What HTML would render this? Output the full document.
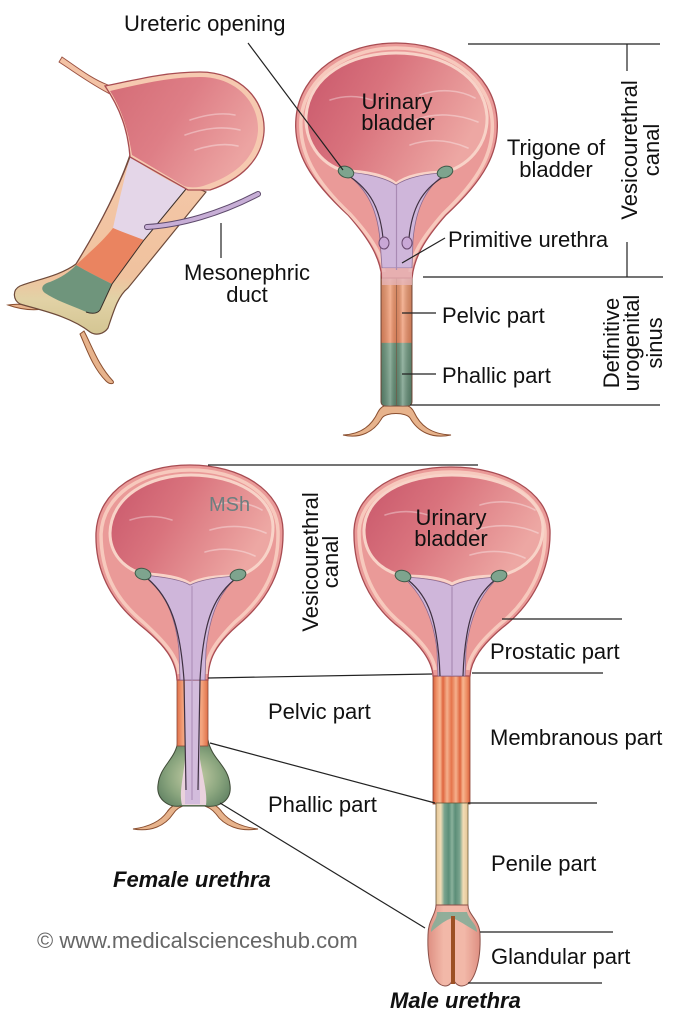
<!DOCTYPE html>
<html><head><meta charset="utf-8">
<style>
html,body{margin:0;padding:0;background:#fff;}
svg{display:block;}
text{font-family:"Liberation Sans",Arial,sans-serif;font-size:22px;fill:#111;}
.ln{stroke:#222;stroke-width:1.2;fill:none;}
.wall{fill:#ea9a98;stroke:#a84c52;stroke-width:1.3;}
.rim{fill:none;stroke:#f7c9bd;stroke-width:3.5;}
.cav{fill:url(#cav);stroke:#f8d3c8;stroke-width:3;}
.tri{fill:#cfb6da;stroke:#8a6a90;stroke-width:0.8;}
.op{fill:#7ea48e;stroke:#3e5a48;stroke-width:1;}
.dk{fill:none;stroke:#3e3040;stroke-width:1.2;}
.flap{fill:#e7b38c;stroke:#8a4f30;stroke-width:1;}
.streak{fill:none;stroke:#fff;stroke-opacity:0.35;stroke-width:1.6;stroke-linecap:round;}
</style></head><body>
<svg width="679" height="1024" viewBox="0 0 679 1024" xmlns="http://www.w3.org/2000/svg">
<defs>
 <linearGradient id="cav" x1="0" y1="0" x2="1" y2="0.4">
  <stop offset="0" stop-color="#c8566a"/>
  <stop offset="0.45" stop-color="#d9737d"/>
  <stop offset="1" stop-color="#eda7a3"/>
 </linearGradient>
 <linearGradient id="cavA" x1="0" y1="0" x2="1" y2="0.5">
  <stop offset="0" stop-color="#d46c76"/>
  <stop offset="0.5" stop-color="#de7e86"/>
  <stop offset="1" stop-color="#eca4a2"/>
 </linearGradient>
 <linearGradient id="tubeB" gradientUnits="userSpaceOnUse" x1="0" y1="266" x2="0" y2="405">
  <stop offset="0" stop-color="#d8c0dd"/>
  <stop offset="0.07" stop-color="#e6b8b8"/>
  <stop offset="0.12" stop-color="#f09a70"/>
  <stop offset="0.55" stop-color="#ee8c62"/>
  <stop offset="0.556" stop-color="#6f9a80"/>
  <stop offset="1" stop-color="#5e8a72"/>
 </linearGradient>
 <linearGradient id="shadeB" gradientUnits="userSpaceOnUse" x1="381" y1="0" x2="412" y2="0">
  <stop offset="0" stop-color="#000" stop-opacity="0.15"/>
  <stop offset="0.3" stop-color="#fff" stop-opacity="0.25"/>
  <stop offset="0.5" stop-color="#000" stop-opacity="0.1"/>
  <stop offset="0.7" stop-color="#fff" stop-opacity="0.3"/>
  <stop offset="1" stop-color="#000" stop-opacity="0.15"/>
 </linearGradient>
 <linearGradient id="orD" gradientUnits="userSpaceOnUse" x1="433" y1="0" x2="470" y2="0">
  <stop offset="0" stop-color="#d65e3c"/>
  <stop offset="0.08" stop-color="#ec8a60"/>
  <stop offset="0.19" stop-color="#f7b690"/>
  <stop offset="0.27" stop-color="#df663f"/>
  <stop offset="0.38" stop-color="#f5b08c"/>
  <stop offset="0.5" stop-color="#e5744b"/>
  <stop offset="0.62" stop-color="#f5b08c"/>
  <stop offset="0.73" stop-color="#df663f"/>
  <stop offset="0.81" stop-color="#f7b690"/>
  <stop offset="0.92" stop-color="#ec8a60"/>
  <stop offset="1" stop-color="#d65e3c"/>
 </linearGradient>
 <linearGradient id="grD" gradientUnits="userSpaceOnUse" x1="436" y1="0" x2="468" y2="0">
  <stop offset="0" stop-color="#e4c596"/>
  <stop offset="0.15" stop-color="#f2dcb5"/>
  <stop offset="0.26" stop-color="#7aa48e"/>
  <stop offset="0.4" stop-color="#5c8e78"/>
  <stop offset="0.5" stop-color="#8ab19c"/>
  <stop offset="0.6" stop-color="#5c8e78"/>
  <stop offset="0.74" stop-color="#7aa48e"/>
  <stop offset="0.85" stop-color="#f2dcb5"/>
  <stop offset="1" stop-color="#e4c596"/>
 </linearGradient>
 <linearGradient id="orC" gradientUnits="userSpaceOnUse" x1="177" y1="0" x2="208" y2="0">
  <stop offset="0" stop-color="#e07048"/>
  <stop offset="0.2" stop-color="#f3a47e"/>
  <stop offset="0.8" stop-color="#f3a47e"/>
  <stop offset="1" stop-color="#e07048"/>
 </linearGradient>
 <radialGradient id="bulb" cx="0.5" cy="0.55" r="0.6">
  <stop offset="0" stop-color="#c9d0a8"/>
  <stop offset="0.6" stop-color="#8aa57e"/>
  <stop offset="1" stop-color="#5f8062"/>
 </radialGradient>
 <linearGradient id="silA" gradientUnits="userSpaceOnUse" x1="0" y1="190" x2="0" y2="335">
  <stop offset="0" stop-color="#f3c6a6"/>
  <stop offset="0.6" stop-color="#f0c29e"/>
  <stop offset="0.75" stop-color="#e2d2a6"/>
  <stop offset="1" stop-color="#d3c592"/>
 </linearGradient>
 <linearGradient id="glans" x1="0" y1="0" x2="1" y2="0">
  <stop offset="0" stop-color="#de8f82"/>
  <stop offset="0.3" stop-color="#f2b8a8"/>
  <stop offset="0.7" stop-color="#f2b8a8"/>
  <stop offset="1" stop-color="#de8f82"/>
 </linearGradient>
</defs>

<!-- ============ Figure A (lateral) ============ -->
<path d="M84,331 C92,346 98,365 113,381 C115,384 110,385 106,381 C93,368 87,350 80,334 Z" class="flap" fill="#f0c0a0"/>
<path d="M8,305 C20,303 32,305 44,309 C30,311 19,309 8,305 Z" class="flap"/>
<path d="M130,155 C118,190 100,225 76,264 C60,276 35,280 20,286 C12,290 13,300 20,304 C40,310 70,316 90,332 C96,336 104,334 108,328 C114,310 118,296 128,288 L206,192 C200,189 192,188 186,188 Z" fill="url(#silA)" stroke="#6d4a3a" stroke-width="1.2"/>
<path d="M130,157 C150,170 170,182 186,189 L144,240 C134,236 122,232 113,228 C118,205 124,180 130,157 Z" fill="#e4d6e8"/>
<path d="M113,228 C122,232 134,236 144,240 L112,284 C100,278 88,272 76,265 C90,252 104,240 113,228 Z" fill="#ea8460"/>
<path d="M76,265 C88,272 100,278 112,284 L100,310 C96,314 90,314 84,311 C70,305 55,300 45,293 C40,289 42,284 50,282 C60,278 70,272 76,265 Z" fill="#6f957c"/>
<path d="M186,189 L144,240 L112,284 L100,310 C97,314 92,314 86,312" fill="none" stroke="#3a2f2a" stroke-width="1"/>
<path d="M130,157 C118,190 100,225 76,264" fill="none" stroke="#7a4a40" stroke-width="1"/>
<path d="M62,57 C78,68 92,79 108,85 L112,95 C92,85 76,73 59,62 Z" fill="#f3c2a5" stroke="#9a5040" stroke-width="0.9"/>
<path d="M105,86 C135,80 165,72 200,72 C240,72 266,100 264,132 C262,160 240,180 210,190 L188,190 L130,157 C128,130 120,108 105,86 Z" fill="#f6c9b0" stroke="#a84c52" stroke-width="1.3"/>
<path d="M110,91 C140,84 170,77 200,77 C236,77 259,102 258,131 C256,157 236,175 206,185 C198,188 190,188 184,186 L132,155 C128,130 122,110 110,91 Z" fill="url(#cavA)"/>
<path d="M190,120 C205,115 220,112 235,115 M185,135 C205,128 222,126 240,130 M195,150 C210,145 225,143 238,146" class="streak"/>
<path d="M147,227 C180,225 220,214 258,194" fill="none" stroke="#5e4a6c" stroke-width="6" stroke-linecap="round"/>
<path d="M147,227 C180,225 220,214 258,194" fill="none" stroke="#c7aed6" stroke-width="4" stroke-linecap="round"/>

<!-- ============ Figure B (top frontal) ============ -->
<path d="M343,435 C362,434 372,425 378,412 C381,406 386,404 396,404 C406,404 411,406 414,412 C420,425 430,434 451,435 C432,439 418,432 410,418 C406,412 386,412 382,418 C374,432 360,439 343,435 Z" class="flap"/>
<rect x="381" y="262" width="31" height="144" rx="4" fill="url(#tubeB)" stroke="#7a4a3a" stroke-width="1"/>
<rect x="381" y="262" width="31" height="144" rx="4" fill="url(#shadeB)"/>
<line x1="396.5" y1="266" x2="396.5" y2="405" stroke="#7a5040" stroke-opacity="0.6" stroke-width="1"/>
<path d="M382,278 C380,258 370,240 348,215 C310,180 293,152 296,118 C300,72 345,43 396,43 C448,43 493,72 497,118 C500,152 484,180 446,215 C424,240 414,258 412,278 Z" class="wall"/>
<path d="M384,272 C382,255 372,238 350,214 C314,180 299,152 301,119 C305,76 348,48 396,48 C446,48 488,76 492,119 C495,152 479,180 443,214 C422,238 412,255 410,272" class="rim"/>
<path d="M344,171 C318,163 305,140 306,116 C309,76 350,53 396,53 C443,53 484,76 487,116 C488,140 474,163 446,172 C425,172 406,176 396,184 C387,176 366,171 344,171 Z" class="cav"/>
<path d="M420,95 C440,88 460,90 475,98 M415,120 C435,112 458,114 478,122 M410,145 C430,138 450,140 468,148 M330,100 C345,95 360,96 372,100" class="streak"/>
<path d="M344,172 C366,173 386,178 396,185 C406,178 426,173 446,173 C428,186 416,205 413,240 L412,268 L382,268 L380,240 C377,205 364,186 344,172 Z" class="tri"/>
<path d="M382,268 L382,285 L412,285 L412,268 Z" fill="#e6b4b6" opacity="0.8"/>
<line x1="396.5" y1="185" x2="396.5" y2="270" stroke="#a98ab4" stroke-width="1.2"/>
<path d="M349,176 C370,190 380,208 383,238" class="dk"/>
<path d="M443,177 C422,190 412,208 409,238" class="dk"/>
<ellipse cx="384" cy="243" rx="5" ry="6" fill="#c9a8d6" stroke="#6a4a70" stroke-width="1"/>
<ellipse cx="407" cy="243" rx="5" ry="6" fill="#c9a8d6" stroke="#6a4a70" stroke-width="1"/>
<ellipse cx="346" cy="172" rx="8" ry="5.5" transform="rotate(20 346 172)" class="op"/>
<ellipse cx="445" cy="172" rx="8" ry="5.5" transform="rotate(-20 445 172)" class="op"/>

<!-- ============ Figure C (female) ============ -->
<path d="M133,829 C148,827 160,822 167,812 C171,806 176,803 183,801 L185,805 C180,807 176,809 173,814 C165,826 151,832 133,829 Z" class="flap" fill="#d9955e"/>
<path d="M258,829 C242,827 230,822 222,812 C218,806 212,803 205,801 L202,805 C208,807 212,809 216,814 C224,826 240,832 258,829 Z" class="flap" fill="#d9955e"/>
<path d="M178,740 C176,760 160,765 158,785 C156,800 170,808 180,806 L205,806 C220,808 232,800 230,785 C228,765 212,760 208,740 Z" fill="url(#bulb)" stroke="#3e4a36" stroke-width="1"/>
<path d="M186,742 C186,770 178,790 182,805 L206,805 C208,790 200,770 198,742 Z" fill="#ead2dd"/>
<rect x="177" y="674" width="31" height="72" fill="url(#orC)" stroke="#8a4a3a" stroke-width="0.8"/>
<rect x="185" y="674" width="15" height="130" fill="#d3bcdc"/>
<path d="M177,680 C176,660 165,645 140,625 C110,600 95,570 96,533 C98,490 140,465 190,465 C240,465 282,490 283,530 C284,570 268,600 238,625 C215,645 208,660 208,680 Z" class="wall"/>
<path d="M179,674 C178,658 167,644 143,622 C114,598 101,570 101,534 C103,494 143,470 190,470 C238,470 277,494 278,531 C279,570 264,598 235,622 C213,644 206,658 206,674" class="rim"/>
<path d="M143,574 C122,568 110,552 110,533 C111,497 148,475 191,475 C236,475 273,497 273,527 C273,553 258,570 238,576 C220,576 200,578 190,584 C182,578 162,574 143,574 Z" class="cav"/>
<path d="M215,505 C232,500 250,503 262,510 M210,530 C230,524 250,526 266,533 M205,552 C222,547 240,549 255,556 M130,520 C145,515 160,516 172,520" class="streak"/>
<path d="M143,575 C165,577 182,580 190,585 C200,580 218,577 238,576 C222,590 210,610 206,650 L205,680 L180,680 L179,650 C175,610 162,590 143,575 Z" class="tri"/>
<line x1="192" y1="586" x2="192" y2="800" stroke="#a98ab4" stroke-width="1"/>
<path d="M148,579 C170,598 180,625 184,680 L186,790" class="dk"/>
<path d="M234,580 C212,598 203,625 200,680 L198,790" class="dk"/>
<ellipse cx="143" cy="574" rx="8" ry="5.5" transform="rotate(15 143 574)" class="op"/>
<ellipse cx="238" cy="575" rx="8" ry="5.5" transform="rotate(-15 238 575)" class="op"/>

<!-- ============ Figure D (male) ============ -->
<rect x="433" y="670" width="37" height="134" fill="url(#orD)" stroke="#8a4030" stroke-width="0.8"/>
<rect x="436" y="803" width="32" height="125" fill="url(#grD)" stroke="#6a5a3a" stroke-width="0.8"/>
<path d="M436,905 C436,915 428,920 428,935 C427,960 432,985 445,986 C450,986 452,982 453,978 C454,982 457,986 462,986 C475,985 481,960 480,935 C480,920 468,915 468,905 Z" fill="url(#glans)" stroke="#8a5048" stroke-width="1"/>
<path d="M437,912 C437,920 431,924 431,932 C440,924 446,920 452,918 C458,920 464,924 477,932 C477,924 469,920 467,912 Z" fill="#86ad98" opacity="0.9"/>
<path d="M451,916 L455,916 L455,984 L451,984 Z" fill="#9c5024"/>
<path d="M433,676 C432,660 420,645 400,628 C370,605 353,570 354,530 C356,490 400,467 451,467 C502,467 548,490 550,530 C551,570 532,605 502,628 C482,645 471,660 470,676 Z" class="wall"/>
<path d="M435,670 C434,656 422,642 403,625 C374,602 359,569 359,531 C361,494 403,472 451,472 C500,472 543,494 545,531 C546,569 528,602 499,625 C480,642 469,656 468,670" class="rim"/>
<path d="M403,576 C378,570 364,553 364,530 C365,495 405,475 452,475 C500,475 542,495 543,527 C543,553 525,570 499,576 C478,576 462,578 452,584 C443,578 425,576 403,576 Z" class="cav"/>
<path d="M480,505 C500,499 520,502 535,510 M475,530 C498,523 520,525 538,533 M470,555 C490,549 510,551 525,558 M385,515 C400,510 415,511 428,515" class="streak"/>
<path d="M403,577 C425,578 443,581 452,586 C461,581 479,578 499,577 C482,592 470,615 466,650 L465,676 L438,676 L437,650 C433,615 420,592 403,577 Z" class="tri"/>
<line x1="452" y1="587" x2="452" y2="676" stroke="#a98ab4" stroke-width="1.2"/>
<path d="M408,580 C428,596 438,620 440,676" class="dk"/>
<path d="M495,580 C475,596 465,620 463,676" class="dk"/>
<ellipse cx="403" cy="576" rx="8" ry="5.5" transform="rotate(15 403 576)" class="op"/>
<ellipse cx="499" cy="576" rx="8" ry="5.5" transform="rotate(-15 499 576)" class="op"/>

<!-- ============ Leader lines ============ -->
<line class="ln" x1="248" y1="43" x2="343" y2="170"/>
<line class="ln" x1="221" y1="223" x2="221" y2="258"/>
<line class="ln" x1="445" y1="238" x2="402" y2="263"/>
<line class="ln" x1="402" y1="313" x2="436" y2="313"/>
<line class="ln" x1="402" y1="374" x2="436" y2="374"/>
<line class="ln" x1="468" y1="44" x2="660" y2="44"/>
<line class="ln" x1="627" y1="44" x2="627" y2="71"/>
<line class="ln" x1="627" y1="242" x2="627" y2="277"/>
<line class="ln" x1="423" y1="277" x2="663" y2="277"/>
<line class="ln" x1="410" y1="405" x2="660" y2="405"/>

<line class="ln" x1="208" y1="465" x2="478" y2="465"/>
<line class="ln" x1="208" y1="678" x2="432" y2="674"/>
<line class="ln" x1="472" y1="673" x2="603" y2="673"/>
<line class="ln" x1="502" y1="619" x2="622" y2="619"/>
<line class="ln" x1="210" y1="743" x2="435" y2="803"/>
<line class="ln" x1="468" y1="803" x2="597" y2="803"/>
<line class="ln" x1="220" y1="803" x2="425" y2="928"/>
<line class="ln" x1="480" y1="932" x2="613" y2="932"/>
<line class="ln" x1="468" y1="983" x2="602" y2="983"/>

<!-- ============ Labels ============ -->
<text x="124" y="31">Ureteric opening</text>
<text x="397" y="109" text-anchor="middle">Urinary</text>
<text x="398" y="130" text-anchor="middle">bladder</text>
<text x="556" y="155" text-anchor="middle">Trigone of</text>
<text x="556" y="177" text-anchor="middle">bladder</text>
<text x="448" y="247">Primitive urethra</text>
<text x="442" y="323">Pelvic part</text>
<text x="442" y="383">Phallic part</text>
<text x="247" y="280" text-anchor="middle">Mesonephric</text>
<text x="247" y="302" text-anchor="middle">duct</text>
<text transform="translate(637,150) rotate(-90)" text-anchor="middle">Vesicourethral</text>
<text transform="translate(659,150) rotate(-90)" text-anchor="middle">canal</text>
<text transform="translate(619,343) rotate(-90)" text-anchor="middle">Definitive</text>
<text transform="translate(639,343) rotate(-90)" text-anchor="middle">urogenital</text>
<text transform="translate(662,343) rotate(-90)" text-anchor="middle">sinus</text>

<text x="209" y="511" style="font-size:20px;fill:#6b7f80">MSh</text>
<text transform="translate(318,562) rotate(-90)" text-anchor="middle">Vesicourethral</text>
<text transform="translate(338,562) rotate(-90)" text-anchor="middle">canal</text>
<text x="451" y="525" text-anchor="middle">Urinary</text>
<text x="451" y="546" text-anchor="middle">bladder</text>
<text x="268" y="719">Pelvic part</text>
<text x="268" y="812">Phallic part</text>
<text x="490" y="659">Prostatic part</text>
<text x="490" y="745">Membranous part</text>
<text x="491" y="871">Penile part</text>
<text x="491" y="964">Glandular part</text>
<text x="113" y="887" style="font-weight:bold;font-style:italic">Female urethra</text>
<text x="37" y="948" style="fill:#666">© www.medicalscienceshub.com</text>
<text x="390" y="1008" style="font-weight:bold;font-style:italic">Male urethra</text>
</svg>
</body></html>
